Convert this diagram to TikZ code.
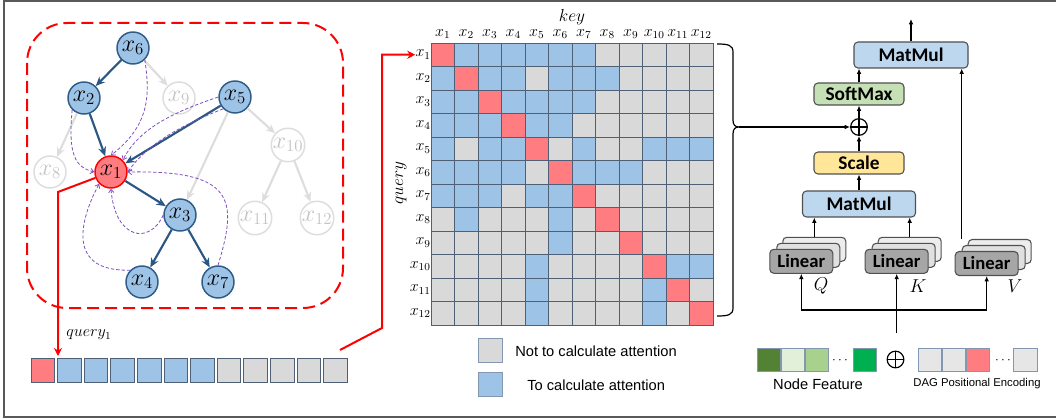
\RequirePackage{fix-cm}
\documentclass[tikz,border=0pt]{standalone}
\usepackage{fontspec}
\setmainfont{Liberation Sans}
\newfontfamily\carlito{Carlito}
\usetikzlibrary{arrows.meta}
\definecolor{nodeblue}{HTML}{9DC3E6}
\definecolor{nodeborder}{HTML}{2E5C86}
\definecolor{edgeblue}{HTML}{2A5783}
\definecolor{lightedge}{HTML}{DDDDDD}
\definecolor{lighttext}{HTML}{C4C4C4}
\definecolor{purp}{HTML}{7E4FC0}
\definecolor{cellred}{HTML}{FF7C80}
\definecolor{cellblue}{HTML}{9DC3E6}
\definecolor{cellgray}{HTML}{D9D9D9}
\definecolor{cellborder}{HTML}{4F5F75}
\definecolor{framegray}{HTML}{595959}
\definecolor{boxborder}{HTML}{505050}
\definecolor{cmatmul}{HTML}{BDD7EE}
\definecolor{csoftmax}{HTML}{C5E0B4}
\definecolor{cscale}{HTML}{FFE699}
\definecolor{clinfront}{HTML}{A6A6A6}
\definecolor{clinmid}{HTML}{E0E0E0}
\definecolor{clinback}{HTML}{EDEDED}
\definecolor{sqborder}{HTML}{8497B0}
\definecolor{gdark}{HTML}{548235}
\definecolor{glight}{HTML}{E2F0D9}
\definecolor{gmid}{HTML}{A9D18E}
\definecolor{gbright}{HTML}{00B050}
\definecolor{pegray}{HTML}{E7E6E6}
\begin{document}
\begin{tikzpicture}[x=0.75pt,y=-0.75pt,
  gnode/.style={circle, draw=nodeborder, fill=nodeblue, line width=1.1pt, minimum size=24pt, inner sep=0pt, font=\fontsize{18}{20}\selectfont},
  rnode/.style={gnode, draw=red, fill=cellred},
  lnode/.style={gnode, draw=lightedge, fill=white, text=lighttext},
  dedge/.style={draw=edgeblue, line width=1.6pt, -{Stealth[length=7pt,width=6pt]}},
  ledge/.style={draw=lightedge, line width=1.6pt, -{Stealth[length=7pt,width=6pt]}},
  pedge/.style={draw=purp, line width=0.6pt, dash pattern=on 2.5pt off 1.5pt, -{Straight Barb[length=2.5pt,width=4pt]}},
  cell/.style={draw=cellborder, line width=0.7pt, minimum size=17.6pt, inner sep=0pt},
  cellR/.style={cell, fill=cellred},
  cellB/.style={cell, fill=cellblue},
  cellG/.style={cell, fill=cellgray},
  mlab/.style={font=\fontsize{12}{13}\selectfont, inner sep=0pt},
  archbox/.style={draw=boxborder, line width=0.8pt, rounded corners=3pt, inner sep=0pt, font=\carlito\bfseries\fontsize{14.5}{16}\selectfont},
  lin/.style={archbox, fill=clinfront, minimum width=47.25pt, minimum height=18pt, font=\carlito\bfseries\fontsize{14}{16}\selectfont},
  linmid/.style={archbox, fill=clinmid, minimum width=47.25pt, minimum height=18pt},
  linbk/.style={archbox, fill=clinback, minimum width=47.25pt, minimum height=18pt},
  arr/.style={line width=0.9pt, -{Latex[length=4pt,width=3.5pt]}},
  oplusnode/.style={circle, draw, line width=0.9pt, minimum size=12.5pt, inner sep=0pt,
    path picture={\draw[line width=0.9pt] (path picture bounding box.north) -- (path picture bounding box.south) (path picture bounding box.west) -- (path picture bounding box.east);}},
  sq/.style={draw=sqborder, line width=0.7pt, minimum width=17.6pt, minimum height=17.3pt, inner sep=0pt},
  legtext/.style={font=\fontsize{11}{13}\selectfont, inner sep=0pt, anchor=west}
]
\useasboundingbox (0,0) rectangle (1056,420);
% frame
\draw[framegray, line width=1.5pt] (1057,1) -- (3.5,1) -- (3.5,417) -- (1057,417);

% dashed red region
\draw[red, line width=1.5pt, dash pattern=on 9pt off 4.5pt, rounded corners=30pt] (27,23) rectangle (343,308);

% graph nodes
\node[gnode] (x6) at (133,48) {$x_6$};
\node[gnode] (x2) at (84,98) {$x_2$};
\node[lnode] (x9) at (179,98) {$x_9$};
\node[gnode] (x5) at (235,97) {$x_5$};
\node[lnode] (x10) at (288,145) {$x_{10}$};
\node[lnode] (x8) at (50,172) {$x_8$};
\node[rnode] (x1) at (111,172) {$x_1$};
\node[gnode] (x3) at (180,215) {$x_3$};
\node[lnode] (x11) at (255,218) {$x_{11}$};
\node[lnode] (x12) at (317,218) {$x_{12}$};
\node[gnode] (x4) at (142,282) {$x_4$};
\node[gnode] (x7) at (218,282) {$x_7$};

% light edges
\draw[ledge] (x6) -- (x9);
\draw[ledge] (x2) -- (x8);
\draw[ledge] (x5) -- (x10);
\draw[ledge] (x5) -- (x3);
\draw[ledge] (x10) -- (x11);
\draw[ledge] (x10) -- (x12);
% dark edges
\draw[dedge] (x6) -- (x2);
\draw[dedge] (x2) -- (x1);
\draw[dedge] (x5) -- (x1);
\draw[dedge] (x1) -- (x3);
\draw[dedge] (x3) -- (x4);
\draw[dedge] (x3) -- (x7);

% purple dashed attention paths
\draw[pedge] (x6.south east) .. controls (150,95) and (150,125) .. (x1.north);
\draw[pedge] (x2.south west) .. controls (68,155) and (75,167) .. (x1.west);
\draw[pedge] (x5.west) .. controls (180,110) and (140,126) .. (x1.north east);
\draw[pedge] (x5.south west) .. controls (190,122) and (150,140) .. (x1.east);
\draw[pedge] (x3.west) .. controls (150,245) and (115,240) .. (x1.south);
\draw[pedge] (x4.north west) .. controls (60,272) and (85,210) .. (x1.south west);
\draw[pedge] (x7.north) .. controls (238,200) and (235,170) .. (x1.east);

% query bar
\foreach \c [count=\k] in {cellR,cellB,cellB,cellB,cellB,cellB,cellB,cellG,cellG,cellG,cellG,cellG}{
  \node[\c, minimum size=17.7pt] (bar\k) at ({42.8+26.6*(\k-1)},370.5) {};
}
\coordinate (qbend) at (58,192);
\coordinate (qend) at (58,356);
\draw[red, line width=1.5pt, -{Stealth[length=6pt,width=6pt]}] (x1) -- (qbend) -- (qend);
\node[font=\fontsize{12}{14}\selectfont] (qlabel) at (89,335) {$query_1$};

% matrix
\foreach \row [count=\i] in {
 {R,B,B,B,B,B,B,G,G,G,G,G},
 {B,R,B,B,G,B,B,B,G,G,G,G},
 {B,B,R,B,B,B,B,G,G,G,G,G},
 {B,B,B,R,B,B,G,G,G,G,G,G},
 {B,G,B,B,R,G,B,G,G,B,B,B},
 {B,B,B,B,G,R,B,B,B,G,G,G},
 {B,B,B,G,B,B,R,G,G,G,G,G},
 {G,B,G,G,G,B,G,R,G,G,G,G},
 {G,G,G,G,G,B,G,G,R,G,G,G},
 {G,G,G,G,B,G,G,G,G,R,B,B},
 {G,G,G,G,B,G,G,G,G,B,R,G},
 {G,G,G,G,B,G,G,G,G,B,G,R}}{
  \foreach \c [count=\j] in \row {
    \node[cell\c] (m-\i-\j) at ({431+23.5*(\j-0.5)},{43+23.5*(\i-0.5)}) {};
  }
}
\foreach \j in {1,...,12}{
  \node[mlab] (c\j) at ({431+23.5*(\j-0.5)},34) {$x_{\j}$};
  \node[mlab, anchor=east] (r\j) at (431,{43+23.5*(\j-0.5)}) {$x_{\j}$};
}
\node[font=\fontsize{13}{14}\selectfont] (key) at (572,17) {$key$};
\node[font=\fontsize{13}{14}\selectfont, rotate=90] (query) at (401,183) {$query$};

% red connector to matrix
\coordinate (rs) at (340,350);
\coordinate (rb) at (382,328);
\draw[red, line width=1.5pt, -{Stealth[length=6pt,width=6pt]}] (rs) -- (rb) |- (r1.west);

% brace
\coordinate (btip) at (739,127);
\draw[line width=0.9pt] (717,44) .. controls (728,44) and (733,45) .. (733,52) -- (733,120) .. controls (733,125) and (735,127) .. (btip)
  .. controls (735,127) and (733,129) .. (733,134) -- (733,308) .. controls (733,315) and (728,316) .. (717,316);

% architecture
\node[archbox, fill=cmatmul, minimum width=85.5pt, minimum height=19.5pt] (mm2) at (911,55) {MatMul};
\node[archbox, fill=csoftmax, minimum width=67.5pt, minimum height=16.5pt] (soft) at (859,94) {SoftMax};
\node[oplusnode] (plus) at (859,127) {};
\node[archbox, fill=cscale, minimum width=67.5pt, minimum height=16.5pt] (scale) at (859,163) {Scale};
\node[archbox, fill=cmatmul, minimum width=84.75pt, minimum height=19.5pt] (mm1) at (859,204) {MatMul};

\node[linbk] (qb) at (814.3,249.3) {};
\node[linmid] (qm) at (808.3,255.3) {};
\node[lin] (qf) at (801.3,261.3) {Linear};
\node[linbk] (kb) at (909.7,249.3) {};
\node[linmid] (km) at (903.7,255.3) {};
\node[lin] (kf) at (896.7,261.3) {Linear};
\node[linbk] (vb) at (999.7,251.5) {};
\node[linmid] (vm) at (993.7,257.5) {};
\node[lin] (vf) at (986.7,263.5) {Linear};

\node[font=\fontsize{14}{16}\selectfont] (Ql) at (821,286) {$Q$};
\node[font=\fontsize{14}{16}\selectfont] (Kl) at (918,286) {$K$};
\node[font=\fontsize{14}{16}\selectfont] (Vl) at (1015,286) {$V$};

\coordinate (out) at (911,19);
\draw[arr] (mm2.north) -- (out);
\draw[arr] (soft.north) -- (soft.north |- mm2.south);
\draw[arr] (plus.north) -- (soft.south);
\draw[arr] (scale.north) -- (plus.south);
\draw[arr] (mm1.north) -- (scale.south);
\draw[arr] (btip) -- (plus.west);
\draw[arr] (qb.north) -- (qb.north |- mm1.south);
\draw[arr] (kb.north) -- (kb.north |- mm1.south);
\coordinate (vtop) at (vm.west |- vb.north);
\draw[arr] (vtop) -- (vtop |- mm2.south);

% inputs
\coordinate (hy) at (0,310);
\coordinate (kin) at (896.7,333);
\draw[line width=0.9pt] (qf.south |- hy) -- (vf.south |- hy);
\draw[arr] (qf.south |- hy) -- (qf.south);
\draw[arr] (vf.south |- hy) -- (vf.south);
\draw[arr] (kin) -- (kf.south);

% feature row
\node[sq, fill=gdark] (nf1) at (769,359.5) {};
\node[sq, fill=glight] (nf2) at (793,359.5) {};
\node[sq, fill=gmid] (nf3) at (817,359.5) {};
\node[font=\fontsize{10}{12}\selectfont] (dots1) at (840,361) {$\cdots$};
\node[sq, fill=gbright] (nf4) at (865,359.5) {};
\node[oplusnode] (plus2) at (895.5,359.5) {};
\node[sq, fill=pegray] (pe1) at (930,359.5) {};
\node[sq, fill=pegray] (pe2) at (954,359.5) {};
\node[sq, fill=cellred] (pe3) at (978,359.5) {};
\node[font=\fontsize{10}{12}\selectfont] (dots2) at (1003,361) {$\cdots$};
\node[sq, fill=pegray] (pe4) at (1025.5,359.5) {};
\node[font=\fontsize{11}{13}\selectfont] (nflabel) at (818,384) {Node Feature};
\node[font=\fontsize{8.5}{10}\selectfont] (pelabel) at (977,384) {DAG Positional Encoding};

% legend
\node[cellG, draw=sqborder, minimum size=18pt] (leg1) at (490,350) {};
\node[legtext] (leg1t) at (515,351) {Not to calculate attention};
\node[cellB, draw=sqborder, minimum size=18pt] (leg2) at (490,384) {};
\node[legtext] (leg2t) at (527,385) {To calculate attention};
\end{tikzpicture}
\end{document}
